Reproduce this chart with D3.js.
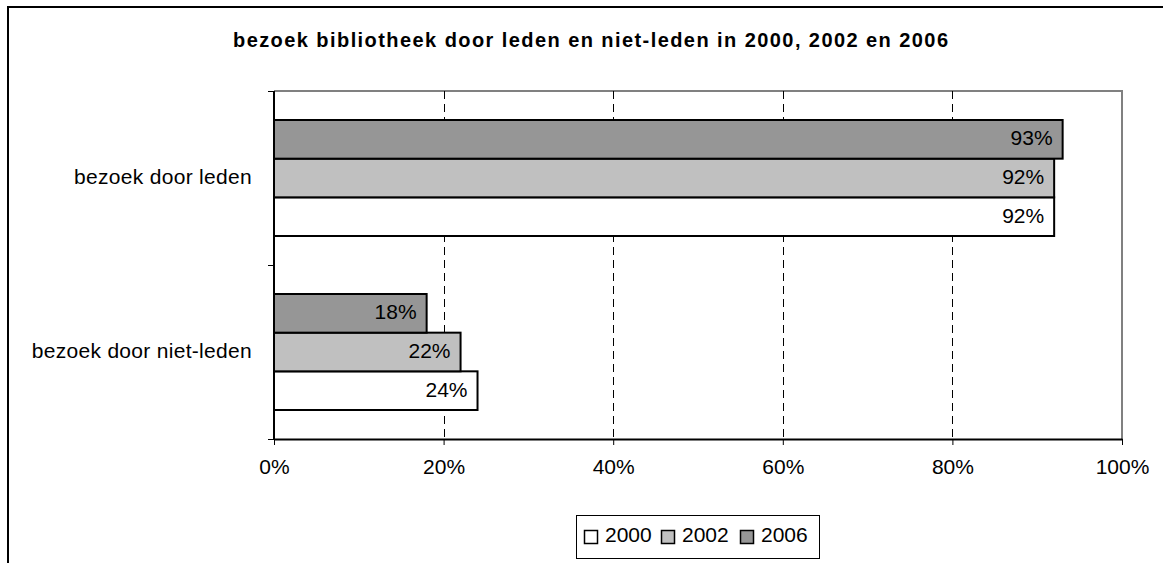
<!DOCTYPE html>
<html>
<head>
<meta charset="utf-8">
<script src="https://cdn.jsdelivr.net/npm/d3@7"></script>
<style>
  html, body { margin: 0; padding: 0; background: #fff; overflow: hidden; }
  svg { display: block; font-family: "Liberation Sans", Arial, sans-serif; }
</style>
</head>
<body>
<svg id="chart" width="1163" height="563"></svg>
<script>
const title = "bezoek bibliotheek door leden en niet-leden in 2000, 2002 en 2006";
const categories = ["bezoek door leden", "bezoek door niet-leden"];
const seriesNames = ["2000", "2002", "2006"];
const values2000 = [0.92, 0.24];
const values2002 = [0.92, 0.22];
const values2006 = [0.93, 0.18];
const xTicks = [0, 0.2, 0.4, 0.6, 0.8, 1.0];
const seriesColors = ["#FFFFFF", "#C0C0C0", "#969696"];

const series = [
  { name: seriesNames[0], values: values2000, color: seriesColors[0] },
  { name: seriesNames[1], values: values2002, color: seriesColors[1] },
  { name: seriesNames[2], values: values2006, color: seriesColors[2] }
];

const FS = 21;
const svg = d3.select("#chart");
const plot = { left: 274, right: 1122, top: 91, bottom: 439 };

// outer border (extends beyond the visible frame)
svg.append("rect").attr("x", 8).attr("y", 7).attr("width", 1200).attr("height", 600)
  .attr("fill", "#fff").attr("stroke", "#000").attr("stroke-width", 2);

// title
svg.append("text").attr("x", 233).attr("y", 47)
  .attr("font-size", 20).attr("font-weight", "bold").attr("fill", "#000")
  .attr("textLength", 715).attr("lengthAdjust", "spacing")
  .text(title);

const x = d3.scaleLinear().domain([0, 1]).range([plot.left, plot.right]);
const y = d3.scaleBand().domain(categories).range([plot.top, plot.bottom])
  .paddingInner(1/3).paddingOuter(1/6);
const yInner = d3.scaleBand().domain(["2006", "2002", "2000"]).range([0, y.bandwidth()]);

// plot area border (gray top & right)
svg.append("path")
  .attr("d", `M${plot.left},${plot.top}H${plot.right}V${plot.bottom}`)
  .attr("fill", "none").attr("stroke", "#808080").attr("stroke-width", 2);

// gridlines
svg.append("g").selectAll("line").data(xTicks.filter(d => d > 0 && d < 1)).join("line")
  .attr("x1", d => Math.round(x(d)) + 0.5).attr("x2", d => Math.round(x(d)) + 0.5)
  .attr("y1", plot.top).attr("y2", plot.bottom)
  .attr("stroke", "#000").attr("stroke-width", 1).attr("stroke-dasharray", "8,5");

// bars
const gBars = svg.append("g");
series.forEach(s => {
  categories.forEach((c, i) => {
    const by = y(c) + yInner(s.name);
    gBars.append("rect")
      .attr("x", x(0)).attr("y", by)
      .attr("width", x(s.values[i]) - x(0)).attr("height", yInner.bandwidth())
      .attr("fill", s.color).attr("stroke", "#000").attr("stroke-width", 2);
    gBars.append("text")
      .attr("x", x(s.values[i]) - 10).attr("y", by + yInner.bandwidth() / 2 + 6)
      .attr("text-anchor", "end").attr("font-size", FS).attr("fill", "#000")
      .text(d3.format(".0%")(s.values[i]));
  });
});

// x axis
const xAxis = d3.axisBottom(x).tickValues(xTicks).tickFormat(d3.format(".0%"))
  .tickSize(6).tickSizeOuter(0).tickPadding(14);
const gx = svg.append("g").attr("transform", `translate(0,${plot.bottom})`).call(xAxis);
gx.select(".domain").attr("stroke", "#000").attr("stroke-width", 2);
gx.selectAll(".tick line").attr("stroke", "#000");
gx.selectAll(".tick text").attr("font-size", FS).attr("font-family", "Liberation Sans, Arial, sans-serif").attr("fill", "#000");

// y axis
const gy = svg.append("g").attr("transform", `translate(${plot.left},0)`);
gy.append("line").attr("x1", 0).attr("x2", 0).attr("y1", plot.top).attr("y2", plot.bottom)
  .attr("stroke", "#000").attr("stroke-width", 2);
const catTicks = [plot.top, y(categories[1]) - y.step() * y.paddingInner() / 2, plot.bottom];
gy.selectAll(".ct").data(catTicks).join("line")
  .attr("x1", -6).attr("x2", 0).attr("y1", d => d + 0.5).attr("y2", d => d + 0.5)
  .attr("stroke", "#000").attr("stroke-width", 1);
gy.selectAll(".cl").data(categories).join("text")
  .attr("x", -22).attr("y", d => y(d) + y.bandwidth() / 2 + 6)
  .attr("text-anchor", "end").attr("font-size", FS).attr("fill", "#000")
  .attr("letter-spacing", 0.3)
  .text(d => d);

// legend
const lg = svg.append("g");
lg.append("rect").attr("x", 576.5).attr("y", 515.5).attr("width", 243).attr("height", 43)
  .attr("fill", "#fff").attr("stroke", "#000").attr("stroke-width", 1);
const legX = [584, 661, 740];
series.forEach((s, i) => {
  lg.append("rect").attr("x", legX[i] + 0.5).attr("y", 530.5).attr("width", 13).attr("height", 13)
    .attr("fill", s.color).attr("stroke", "#000").attr("stroke-width", 1.5);
  lg.append("text").attr("x", legX[i] + 21).attr("y", 542)
    .attr("font-size", FS).attr("fill", "#000").text(s.name);
});
</script>
</body>
</html>
